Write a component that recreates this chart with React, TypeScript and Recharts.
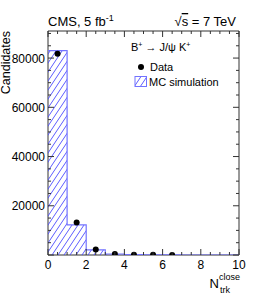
import React from "react";
import {
  Area,
  ComposedChart,
  Legend,
  ReferenceArea,
  Scatter,
  XAxis,
  YAxis,
} from "recharts";

// MC histogram: value of the bin that starts at each edge (last edge repeats)
const binEdges = [0, 1, 2, 3, 4, 5, 6, 7, 8, 9, 10];
const mcCounts = [83000, 12200, 2100, 400, 120, 50, 20, 10, 5, 2, 2];

// data points at bin centres
const dataX = [0.5, 1.5, 2.5, 3.5, 4.5, 5.5, 6.5];
const dataY = [81800, 13200, 2200, 450, 150, 70, 30];

const xTicks = [0, 0.5, 1, 1.5, 2, 2.5, 3, 3.5, 4, 4.5, 5, 5.5, 6, 6.5, 7, 7.5, 8, 8.5, 9, 9.5, 10];
const xLabels = [0, 2, 4, 6, 8, 10];
const yTicks = [
  0, 5000, 10000, 15000, 20000, 25000, 30000, 35000, 40000, 45000, 50000,
  55000, 60000, 65000, 70000, 75000, 80000, 85000, 90000,
];
const yLabels = [20000, 40000, 60000, 80000];
const Y_MAX = 91000;

const W = 266;
const H = 300;
const M = { top: 31, right: 27, left: 0, bottom: 0 };
const PLOT_LEFT = 48;
const PLOT_RIGHT = W - M.right;
const PLOT_TOP = M.top;
const PLOT_BOTTOM = 255;

const FONT = "Liberation Sans, Arial, Helvetica, sans-serif";
const HATCH = "#4a4aff";
const OUTLINE = "#7373ff";
const FRAME = "#333";

const histData = binEdges.map((x, i) => ({ x, mc: mcCounts[i] }));
const pointData = dataX.map((x, i) => ({ x, y: dataY[i] }));

function XTick({ x, payload }: any) {
  const v = payload.value;
  const major = xLabels.includes(v);
  const len = major ? 6 : 3;
  return (
    <g>
      <line x1={x} x2={x} y1={PLOT_BOTTOM} y2={PLOT_BOTTOM - len} stroke={FRAME} />
      <line x1={x} x2={x} y1={PLOT_TOP} y2={PLOT_TOP + len} stroke={FRAME} />
      {major && (
        <text x={x} y={PLOT_BOTTOM + 14} textAnchor="middle" fontSize={12} fontFamily={FONT} fill="#000">
          {v}
        </text>
      )}
    </g>
  );
}

function YTick({ y, payload }: any) {
  const v = payload.value;
  const major = v % 20000 === 0;
  const len = major ? 6 : 3;
  return (
    <g>
      <line x1={PLOT_LEFT} x2={PLOT_LEFT + len} y1={y} y2={y} stroke={FRAME} />
      <line x1={PLOT_RIGHT} x2={PLOT_RIGHT - len} y1={y} y2={y} stroke={FRAME} />
      {yLabels.includes(v) && (
        <text x={PLOT_LEFT - 3} y={y + 4.5} textAnchor="end" fontSize={12} fontFamily={FONT} fill="#000">
          {v}
        </text>
      )}
    </g>
  );
}

function Titles({ viewBox }: any) {
  const { x, y, width } = viewBox;
  return (
    <g fontFamily={FONT} fill="#000">
      <text x={x} y={y - 5} fontSize={13}>
        CMS, 5 fb
        <tspan fontSize={9} dy={-5}>-1</tspan>
      </text>
      <text x={x + width - 3} y={y - 5} fontSize={13} textAnchor="end">
        √<tspan style={{ textDecoration: "overline" }}>s</tspan> = 7 TeV
      </text>
    </g>
  );
}

function XTitle({ viewBox }: any) {
  const right = viewBox.x + viewBox.width;
  return (
    <g fontFamily={FONT} fill="#000">
      <text x={right - 29.5} y={288} fontSize={13}>N</text>
      <text x={right - 20} y={280} fontSize={9}>close</text>
      <text x={right - 19} y={293} fontSize={9}>trk</text>
    </g>
  );
}

function YTitle() {
  return (
    <text
      transform={`translate(10, ${PLOT_TOP}) rotate(-90)`}
      textAnchor="end"
      fontSize={12.5}
      fontFamily={FONT}
      fill="#000"
    >
      Candidates
    </text>
  );
}

function LegendBox() {
  return (
    <svg width={120} height={50} style={{ display: "block" }}>
      <g fontFamily={FONT} fontSize={11} fill="#000">
        <text x={3} y={9}>
          B<tspan fontSize={7} dy={-4}>+</tspan>
          <tspan dy={4}> → J/ψ K</tspan>
          <tspan fontSize={7} dy={-4}>+</tspan>
        </text>
        <circle cx={13} cy={25} r={3} fill="#000" />
        <text x={22} y={29}>Data</text>
        <rect x={7} y={34.5} width={11.5} height={10} fill="url(#hatch)" stroke={OUTLINE} />
        <text x={21} y={43.5}>MC simulation</text>
      </g>
    </svg>
  );
}

export default function App() {
  return (
    <div style={{ position: "absolute", left: 0, top: 0, width: W, height: H, background: "#fff" }}>
      <ComposedChart width={W} height={H} data={histData} margin={M}>
        <defs>
          <pattern id="hatch" patternUnits="userSpaceOnUse" width={6} height={9}>
            <line x1={0} y1={9} x2={6} y2={0} stroke={HATCH} strokeWidth={0.9} />
            <line x1={-1} y1={1.5} x2={1} y2={-1.5} stroke={HATCH} strokeWidth={0.9} />
            <line x1={5} y1={10.5} x2={7} y2={7.5} stroke={HATCH} strokeWidth={0.9} />
          </pattern>
        </defs>
        <XAxis
          type="number"
          dataKey="x"
          domain={[0, 10]}
          ticks={xTicks}
          interval={0}
          tickSize={0}
          tickMargin={0}
          tickLine={false}
          axisLine={false}
          tick={<XTick />}
          height={45}
          allowDataOverflow
          label={<XTitle />}
        />
        <YAxis
          type="number"
          domain={[0, Y_MAX]}
          ticks={yTicks}
          interval={0}
          tickSize={0}
          tickMargin={0}
          tickLine={false}
          axisLine={false}
          tick={<YTick />}
          width={PLOT_LEFT}
          allowDataOverflow
          label={<YTitle />}
        />
        <ReferenceArea
          x1={0}
          x2={10}
          y1={0}
          y2={Y_MAX}
          fill="none"
          fillOpacity={0}
          stroke={FRAME}
          strokeOpacity={1}
          label={<Titles />}
        />
        <Area
          type="stepAfter"
          dataKey="mc"
          stroke={OUTLINE}
          strokeWidth={1.2}
          fill="url(#hatch)"
          fillOpacity={1}
          isAnimationActive={false}
          dot={false}
          activeDot={false}
        />
        <Scatter
          data={pointData}
          dataKey="y"
          fill="#000"
          shape={(p: any) => <circle cx={p.cx} cy={p.cy} r={3} fill="#000" />}
          isAnimationActive={false}
        />
        <Legend
          layout="vertical"
          verticalAlign="middle"
          align="center"
          content={<LegendBox />}
          wrapperStyle={{ position: "absolute", left: 128, top: 42, width: 120, height: 50 }}
        />
      </ComposedChart>
    </div>
  );
}
